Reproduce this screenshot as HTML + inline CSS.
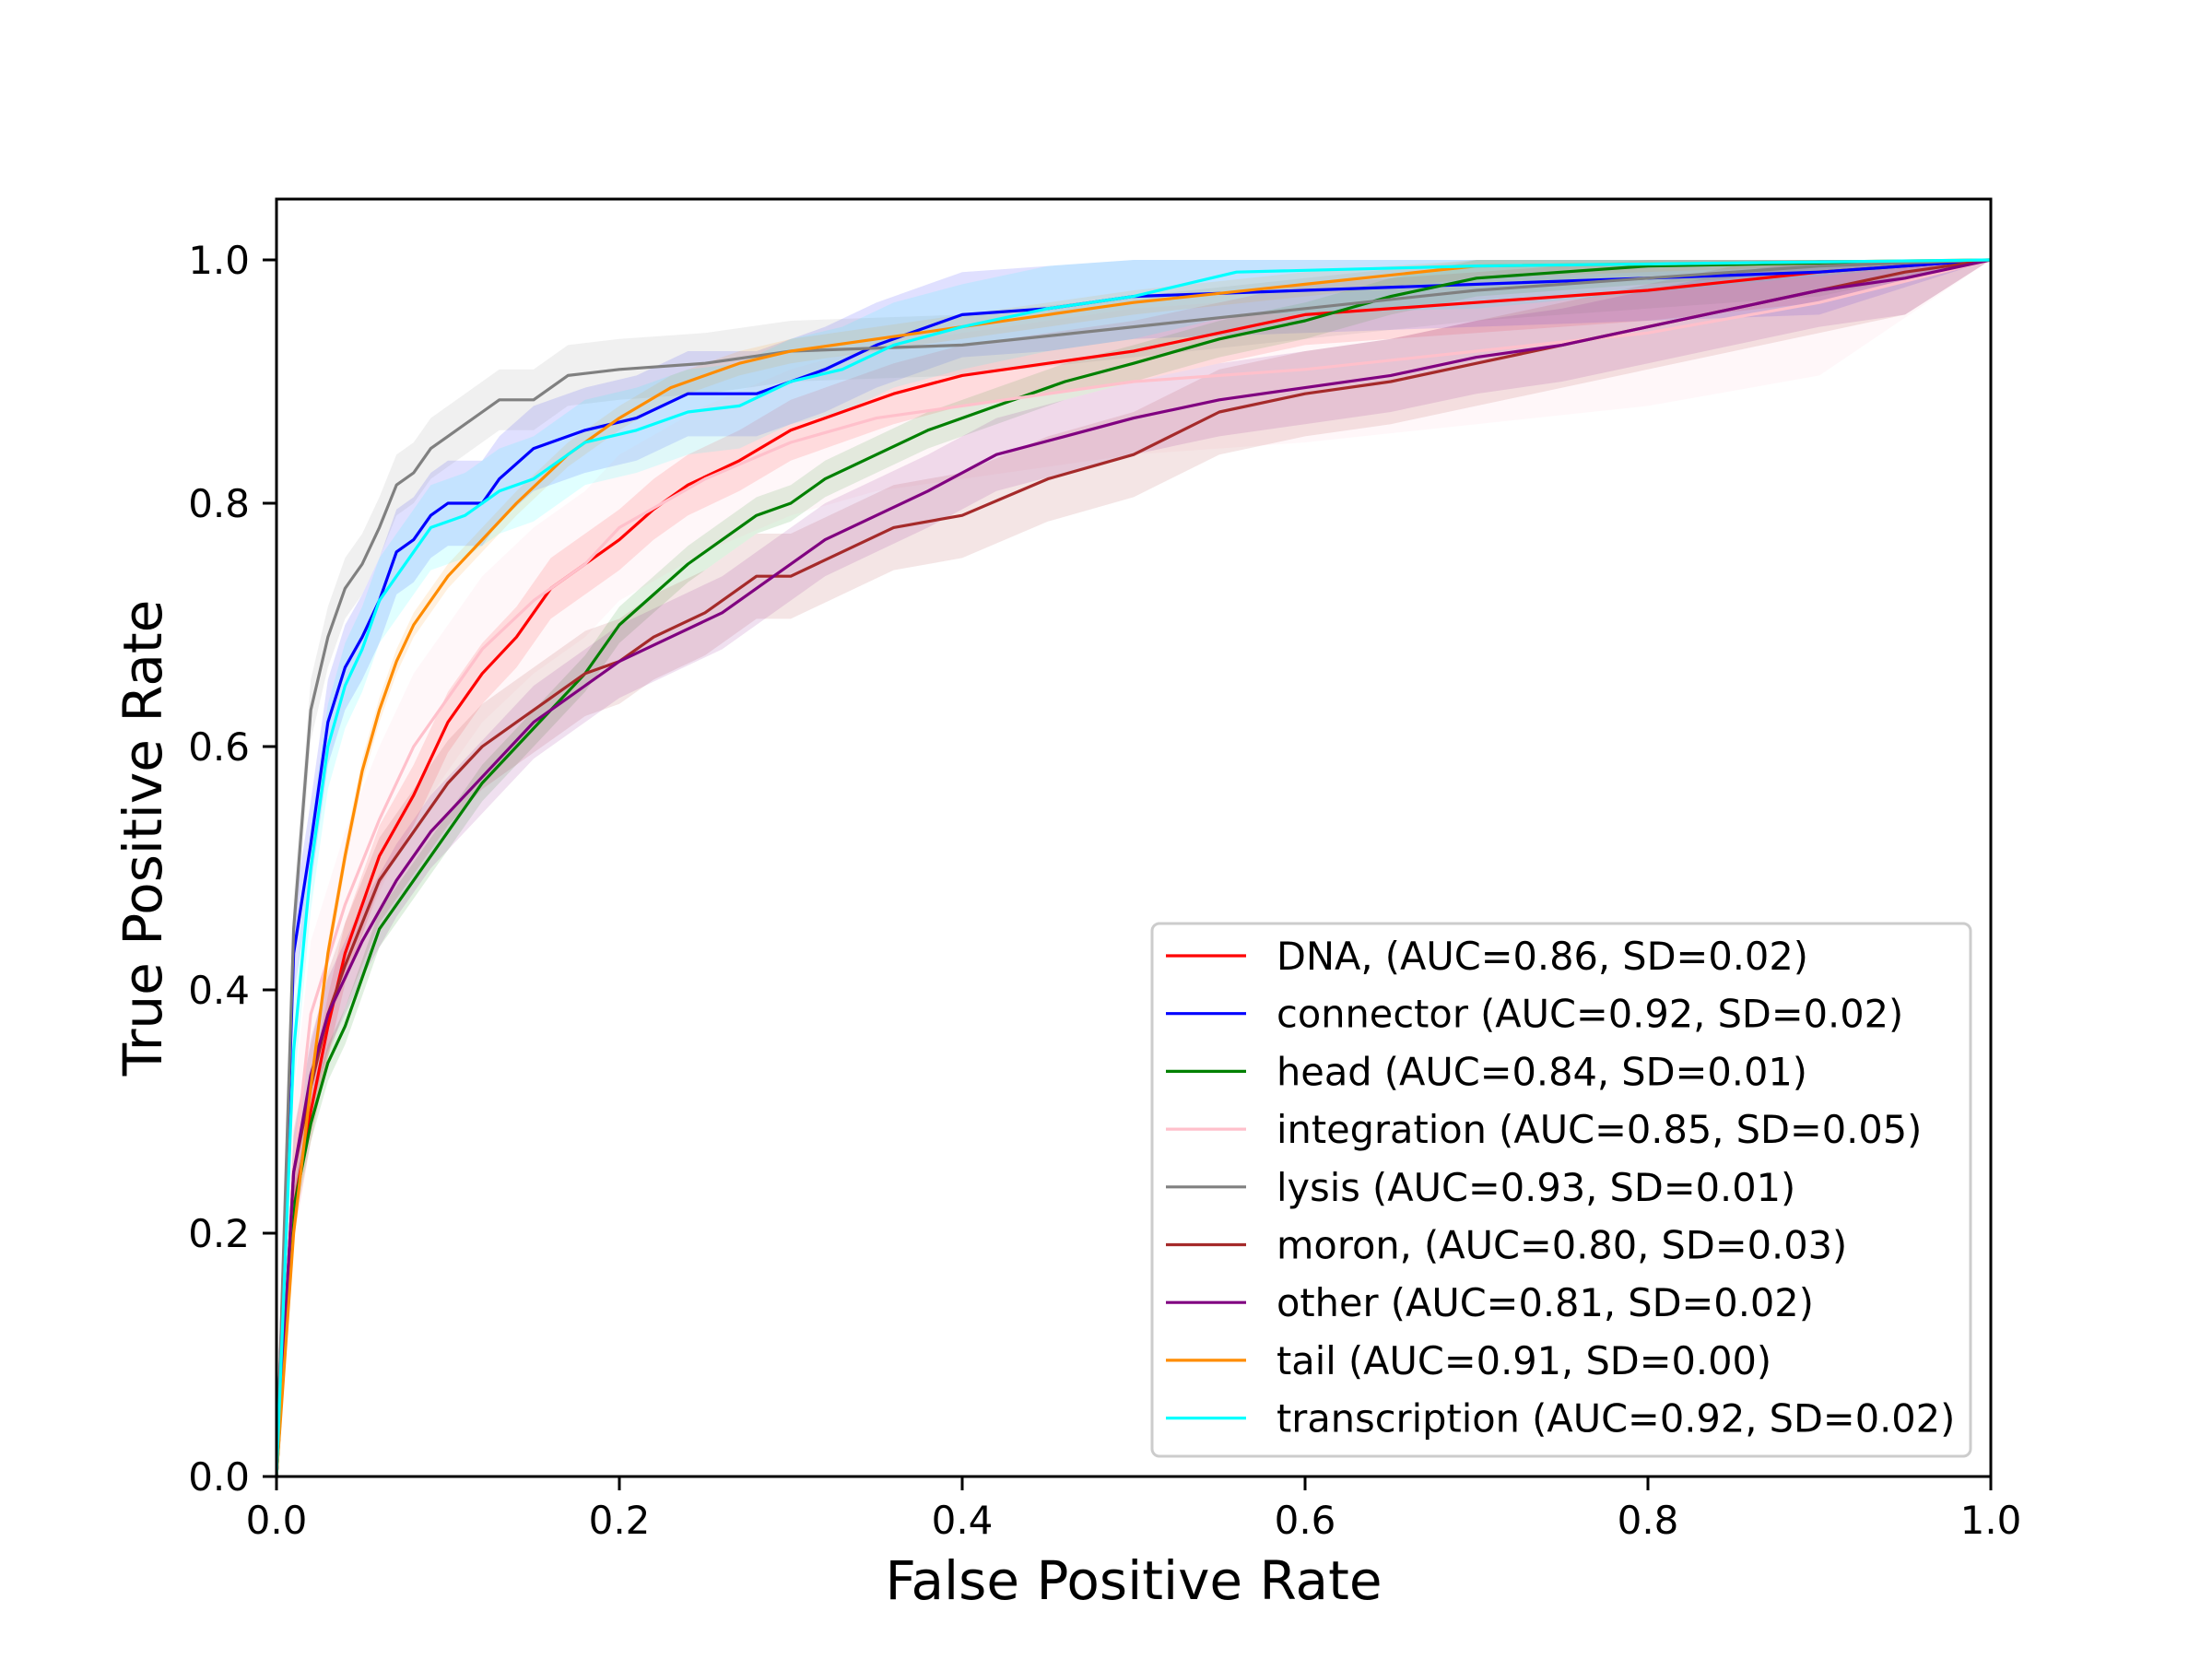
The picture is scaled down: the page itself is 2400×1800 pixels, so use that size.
<!DOCTYPE html>
<html><head><meta charset="utf-8"><style>
html,body{margin:0;padding:0;background:#fff;}
svg{display:block;font-family:"DejaVu Sans","Liberation Sans",sans-serif;}
</style></head><body>
<svg id="chart" width="2400" height="1800" viewBox="0 0 2400 1800" xmlns="http://www.w3.org/2000/svg">
<rect width="2400" height="1800" fill="#fff"/>
<g id="bands"></g>
<g id="lines"></g>
<rect x="300" y="216" width="1860" height="1386" fill="none" stroke="#000" stroke-width="3"/>
<g id="ticks"></g>
<text x="1230" y="1735" font-size="58" text-anchor="middle">False Positive Rate</text>
<text transform="translate(175,909) rotate(-90)" font-size="58" text-anchor="middle">True Positive Rate</text>
<g id="legend"></g>
</svg>
<script>
const names = ["DNA","connector","head","integration","lysis","moron","other","tail","transcription"];
const labels = ["DNA, (AUC=0.86, SD=0.02)","connector (AUC=0.92, SD=0.02)","head (AUC=0.84, SD=0.01)","integration (AUC=0.85, SD=0.05)","lysis (AUC=0.93, SD=0.01)","moron, (AUC=0.80, SD=0.03)","other (AUC=0.81, SD=0.02)","tail (AUC=0.91, SD=0.00)","transcription (AUC=0.92, SD=0.02)"];
const colors = ["red","blue","green","pink","gray","brown","purple","darkorange","cyan"];
const bandWidth = [0.025,0.035,0.015,0.06,0.025,0.035,0.03,0.01,0.035];
const xTicks = [0,0.2,0.4,0.6,0.8,1.0];
const yTicks = [0,0.2,0.4,0.6,0.8,1.0];
const fprDNA = [0,0.01,0.02,0.03,0.04,0.05,0.06,0.08,0.1,0.12,0.14,0.16,0.18,0.2,0.22,0.24,0.27,0.3,0.33,0.36,0.4,0.45,0.5,0.55,0.6,0.7,0.8,0.9,1];
const tprDNA = [0,0.22,0.3,0.37,0.43,0.47,0.51,0.56,0.62,0.66,0.69,0.73,0.75,0.77,0.795,0.815,0.835,0.86,0.875,0.89,0.905,0.915,0.925,0.94,0.955,0.965,0.975,0.99,1];
const fprConnector = [0,0.01,0.02,0.03,0.04,0.05,0.06,0.07,0.08,0.09,0.1,0.12,0.13,0.15,0.18,0.21,0.24,0.28,0.32,0.35,0.4,0.45,0.5,0.6,0.8,0.9,1];
const tprConnector = [0,0.43,0.52,0.62,0.665,0.69,0.72,0.76,0.77,0.79,0.8,0.8,0.82,0.845,0.86,0.87,0.89,0.89,0.91,0.93,0.955,0.96,0.97,0.975,0.985,0.99,1];
const fprHead = [0,0.01,0.02,0.03,0.04,0.05,0.06,0.08,0.1,0.12,0.14,0.16,0.18,0.2,0.22,0.24,0.26,0.28,0.3,0.32,0.35,0.38,0.42,0.46,0.5,0.55,0.6,0.65,0.7,0.8,1];
const tprHead = [0,0.22,0.29,0.34,0.37,0.41,0.45,0.49,0.53,0.57,0.6,0.63,0.66,0.7,0.725,0.75,0.77,0.79,0.8,0.82,0.84,0.86,0.88,0.9,0.915,0.935,0.95,0.97,0.985,0.995,1];
const fprIntegration = [0,0.01,0.02,0.04,0.06,0.08,0.1,0.12,0.15,0.18,0.2,0.25,0.3,0.35,0.4,0.5,0.6,0.7,0.8,0.9,1];
const tprIntegration = [0,0.25,0.38,0.47,0.54,0.6,0.64,0.68,0.72,0.75,0.78,0.82,0.85,0.87,0.88,0.9,0.91,0.925,0.94,0.965,1];
const fprLysis = [0,0.01,0.02,0.03,0.04,0.05,0.06,0.07,0.08,0.09,0.1,0.12,0.13,0.15,0.17,0.2,0.25,0.3,0.4,0.5,0.6,0.7,0.8,0.9,1];
const tprLysis = [0,0.45,0.63,0.69,0.73,0.75,0.78,0.815,0.825,0.845,0.855,0.875,0.885,0.885,0.905,0.91,0.915,0.925,0.93,0.945,0.96,0.975,0.985,0.995,1];
const fprMoron = [0,0.01,0.02,0.03,0.04,0.06,0.08,0.1,0.12,0.14,0.16,0.18,0.2,0.22,0.25,0.28,0.3,0.33,0.36,0.4,0.45,0.5,0.55,0.6,0.65,0.7,0.75,0.8,0.85,0.9,0.95,1];
const tprMoron = [0,0.25,0.32,0.38,0.42,0.49,0.53,0.57,0.6,0.62,0.64,0.66,0.67,0.69,0.71,0.74,0.74,0.76,0.78,0.79,0.82,0.84,0.875,0.89,0.9,0.915,0.93,0.945,0.96,0.975,0.99,1];
const fprOther = [0,0.01,0.02,0.03,0.05,0.07,0.09,0.11,0.13,0.15,0.18,0.2,0.23,0.26,0.29,0.32,0.35,0.38,0.42,0.46,0.5,0.55,0.6,0.65,0.7,0.75,0.8,0.85,0.9,0.95,1];
const tprOther = [0,0.25,0.33,0.38,0.44,0.49,0.53,0.56,0.59,0.62,0.65,0.67,0.69,0.71,0.74,0.77,0.79,0.81,0.84,0.855,0.87,0.885,0.895,0.905,0.92,0.93,0.945,0.96,0.975,0.985,1];
const fprTail = [0,0.01,0.02,0.03,0.04,0.05,0.06,0.07,0.08,0.1,0.12,0.14,0.17,0.2,0.23,0.27,0.3,0.35,0.4,0.45,0.5,0.6,0.7,1];
const tprTail = [0,0.2,0.32,0.43,0.51,0.58,0.63,0.67,0.7,0.74,0.77,0.8,0.84,0.87,0.895,0.915,0.925,0.935,0.945,0.955,0.965,0.98,0.995,1];
const fprTranscription = [0,0.01,0.02,0.03,0.04,0.05,0.06,0.07,0.09,0.11,0.13,0.15,0.18,0.21,0.24,0.27,0.3,0.33,0.36,0.4,0.45,0.5,0.56,0.7,1];
const tprTranscription = [0,0.35,0.5,0.6,0.65,0.68,0.72,0.74,0.78,0.79,0.81,0.82,0.85,0.86,0.875,0.88,0.9,0.91,0.93,0.945,0.96,0.97,0.99,0.995,1];
const fprs = [fprDNA,fprConnector,fprHead,fprIntegration,fprLysis,fprMoron,fprOther,fprTail,fprTranscription];
const tprs = [tprDNA,tprConnector,tprHead,tprIntegration,tprLysis,tprMoron,tprOther,tprTail,tprTranscription];

const NS = "http://www.w3.org/2000/svg";
const X = v => 300 + v * 1860;
const Y = v => 1602 - v * 1320;
function mk(tag, attrs, parent){const e=document.createElementNS(NS,tag);for(const k in attrs)e.setAttribute(k,attrs[k]);parent.appendChild(e);return e;}
const bands=document.getElementById('bands'), lines=document.getElementById('lines');
for(let i=0;i<names.length;i++){
  const f=fprs[i], t=tprs[i], w=bandWidth[i];
  const up=f.map((x,j)=>X(x)+','+Y(Math.min(1,t[j]+(t[j]>0&&t[j]<1?w:0))));
  const lo=f.map((x,j)=>X(x)+','+Y(Math.max(0,t[j]-(t[j]>0&&t[j]<1?w:0)))).reverse();
  const b=mk('polygon',{points:up.concat(lo).join(' '),fill:colors[i],'fill-opacity':0.12,stroke:'none'},bands);
  
  
  const l=mk('polyline',{points:f.map((x,j)=>X(x)+','+Y(t[j])).join(' '),fill:'none',stroke:colors[i],'stroke-width':3.2,'stroke-linejoin':'round'},lines);
  
  
}
const ticks=document.getElementById('ticks');
xTicks.forEach(v=>{
  const ln=mk('line',{x1:X(v),x2:X(v),y1:1602,y2:1617,stroke:'#000','stroke-width':3},ticks);
  
  
  const tx=mk('text',{x:X(v),y:1664,'font-size':42,'text-anchor':'middle'},ticks);
  tx.textContent=v.toFixed(1);
  
  
});
yTicks.forEach(v=>{
  const ln=mk('line',{x1:285,x2:300,y1:Y(v),y2:Y(v),stroke:'#000','stroke-width':3},ticks);
  
  
  const tx=mk('text',{x:271,y:Y(v)+15,'font-size':42,'text-anchor':'end'},ticks);
  tx.textContent=v.toFixed(1);
  
  
});
const lg=document.getElementById('legend');
const box=mk('rect',{x:1250,y:1002,width:888,height:578,rx:8,fill:'#fff','fill-opacity':0.8,stroke:'#ccc','stroke-width':3},lg);


labels.forEach((s,i)=>{
  const y=1037+i*62.7;
  const ln=mk('line',{x1:1265,x2:1352,y1:y,y2:y,stroke:colors[i],'stroke-width':3.2},lg);
  
  
  const tx=mk('text',{x:1385,y:y+15,'font-size':41.5},lg);
  tx.textContent=s;
  
  
});
</script>
</body></html>
